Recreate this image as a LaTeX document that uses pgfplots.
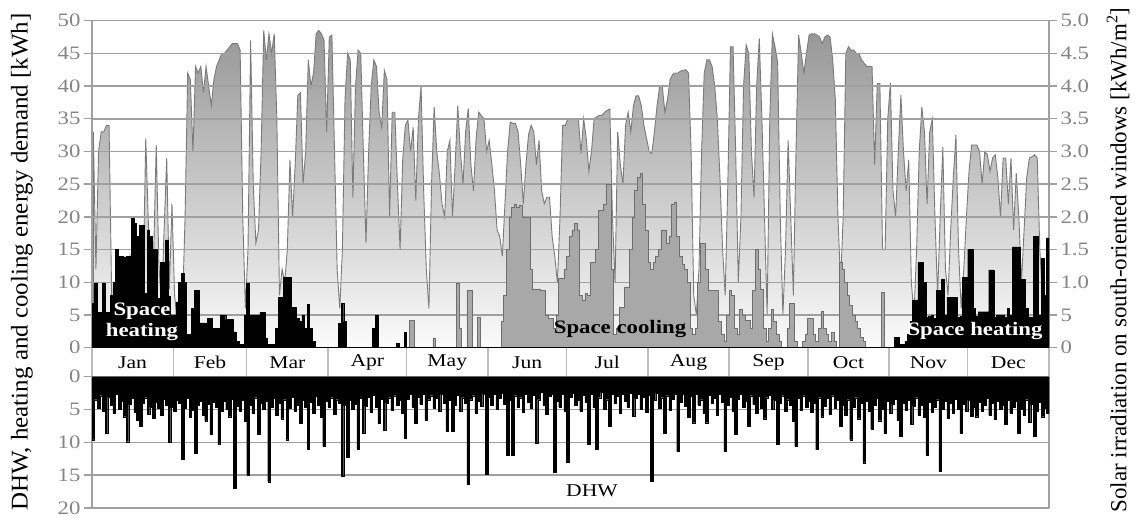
\documentclass[border=0pt]{standalone}
\usepackage{fontspec}
\setmainfont{Liberation Serif}[FakeStretch=1.2]
\newfontfamily\labfont{Liberation Serif}[FakeStretch=1.04]
\newfontfamily\rlabfont{Liberation Serif}
\usepackage{pgfplots}
\usepackage{pgfplotstable}
\pgfplotsset{compat=1.18}

\definecolor{gridgray}{HTML}{A0A0A0}
\definecolor{tickgray}{HTML}{858585}
\definecolor{soltop}{HTML}{979797}
\definecolor{solbot}{HTML}{FBFBFB}
\definecolor{solline}{HTML}{7A7A7A}
\definecolor{coolfill}{HTML}{A8A8A8}
\definecolor{coolline}{HTML}{6E6E6E}
\definecolor{sepgray}{HTML}{BDBDBD}

% day, solar irradiation [kWh/m2], space heating, space cooling, DHW [kWh]
\pgfplotstableread{
d sol heat cool dhw
1 3.3 6.8 0 9.6
2 1.2 9.9 0 3.5
3 3.0 5.4 0 4.8
4 3.3 5.4 0 2.9
5 3.3 9.9 0 5.2
6 3.4 5.4 0 8.6
7 3.4 5.4 0 3.1
8 0.8 8 0 4.4
9 0.5 10 0 5.6
10 1.0 15 0 2.7
11 0.8 14 0 4.9
12 1.2 14 0 3.8
13 0.6 13.9 0 6.1
14 0.9 14 0 9.9
15 1.4 14 0 4.2
16 1.1 19.8 0 3.3
17 0.7 19 0 5.4
18 1.2 17 0 6.6
19 1.6 18.7 0 7.6
20 1.0 18.7 0 4.1
21 3.2 8.3 0 3.2
22 1.9 18 0 5.7
23 0.8 17 0 4.6
24 1.4 15 0 6.3
25 3.1 15 0 3.9
26 1.3 7.5 0 4.8
27 0.6 13 0 5.9
28 1.8 13 0 3.4
29 2.9 16.5 0 4.4
30 0.9 7.8 0 10
31 2.2 5 0 4.7
32 0.8 5 0 5.3
33 0.4 7 0 3.6
34 1.0 10 0 4.1
35 0.6 11.4 0 12.5
36 2.0 10 0 4.8
37 4.2 2 0 3.3
38 4.1 2 0 6.2
39 3.0 6 0 5.1
40 4.3 8.8 0 11.6
41 4.2 8.8 0 4.4
42 4.3 3.8 0 3.7
43 3.9 3.8 0 5.8
44 4.3 3.8 0 6.7
45 4.0 4.5 0 4.2
46 3.7 4.5 0 8.7
47 4.1 3 0 3.9
48 4.3 3 0 4.6
49 4.4 3 0 10.2
50 4.5 5 0 5.3
51 4.5 5 0 3.8
52 4.55 4.3 0 4.9
53 4.6 4.3 0 6.1
54 4.65 4.3 0 3.4
55 4.65 2.4 0 17
56 4.65 1 0 4.5
57 4.55 0.5 0 5.2
58 2.0 0.5 0 3.6
59 0.6 5 0 6.8
60 1.5 9.9 0 15
61 4.7 5 0 4.3
62 2.5 5 0 5.6
63 1.6 5 0 3.2
64 1.8 5 0 8.8
65 3.0 5.4 0 4.1
66 4.85 5.4 0 5.0
67 4.4 1.5 0 3.7
68 4.8 0.5 0 16
69 4.5 0.5 0 4.6
70 4.8 0.5 0 3.3
71 3.5 3 0 5.9
72 0.8 7.7 0 4.0
73 1.2 7.7 0 6.4
74 1.0 10.8 0 3.5
75 1.5 10.8 0 9.6
76 2.87 10.8 0 4.8
77 2.0 6.2 0 3.1
78 2.8 6.2 0 5.2
79 3.86 4.5 0 4.3
80 3.9 4 0 7.1
81 2.5 5 0 3.6
82 3.0 3 0 4.7
83 4.4 6.6 0 11.1
84 4.0 3 0 3.9
85 4.2 1 0 5.5
86 4.8 0 0 3.0
87 4.85 0 0 4.4
88 4.8 0 0 6.2
89 4.7 0 0 10.6
90 3.3 0 0 3.8
91 4.75 0 0 4.6
92 4.78 0 0 3.2
93 3.0 0 0 5.7
94 1.2 0 0 3.5
95 0.6 3.7 0 4.1
96 1.5 6.8 0 15.2
97 3.8 4 0 4.4
98 4.5 0 0 12.3
99 4.4 0 0 3.6
100 2.3 0 0 5.0
101 4.0 0 0 4.2
102 4.55 0 0 11.1
103 4.5 0 0 3.3
104 3.0 0 0 8.6
105 1.6 0 0 4.5
106 3.0 0 0 3.1
107 4.0 0 0 5.4
108 4.4 3 0 2.8
109 4.3 5 0 4.7
110 3.6 0 0 7.1
111 3.37 0 0 3.4
112 4.24 0 0 8.1
113 4.1 0 0 4.0
114 2.0 0 0 3.2
115 3.6 0 0 5.1
116 3.6 0 0 2.9
117 2.5 0.7 0 4.3
118 1.5 0 0 3.6
119 2.87 0 0 5.6
120 3.4 2.3 0 9.3
121 3.48 0 0 3.4
122 3.0 0 4.2 2.7
123 3.37 0 4.2 4.6
124 2.25 0 0 7.1
125 3.5 0 0 3.1
126 4.0 0 0 4.2
127 2.4 0 0 2.6
128 1.2 0 0 6.6
129 0.6 0 0 3.5
130 2.5 0 0 2.9
131 3.68 0 1.5 4.8
132 3.0 0 0 3.3
133 2.66 0 0 5.2
134 2.2 0 0 2.7
135 2.0 0 0 4.0
136 3.0 0 0 8.3
137 3.17 0 0 3.6
138 2.0 0 0 8.3
139 2.8 0 0 4.4
140 3.7 0 9.8 2.8
141 3.0 0 3 5.3
142 2.5 0 0 3.2
143 3.3 0 0 4.1
144 3.66 0 8.8 16.4
145 2.8 0 8.8 3.5
146 2.4 0 0 2.9
147 3.2 0 0 5.6
148 3.6 0 4.7 3.7
149 3.55 0 0 4.5
150 3.5 0 0 2.6
151 3.0 0 0 14.9
152 3.17 0 0 3.1
153 2.8 0 0 4.4
154 2.4 0 0 2.7
155 1.8 0 0 5.0
156 1.7 0 0 3.3
157 1.4 0 4 2.5
158 2.2 0 8 4.2
159 3.0 0 15 11.9
160 3.45 0 20 3.6
161 3.43 0 21.5 11.9
162 3.43 0 22 2.9
163 3.3 0 21.5 4.7
164 2.8 0 21.8 3.2
165 2.2 0 20 5.4
166 2.8 0 20 2.6
167 3.26 0 20 3.9
168 3.4 0 12 4.8
169 3.3 0 9 2.8
170 2.8 0 9 10.1
171 3.17 0 9 3.5
172 2.4 0 8.8 2.4
173 2.2 0 8.8 4.3
174 2.3 0 5 5.7
175 2.3 0 4.5 3.0
176 1.7 0 4.5 2.6
177 1.4 0 3 14.5
178 1.0 0 5 3.8
179 2.0 0 10.6 4.6
180 3.4 0 10.6 2.7
181 3.4 0 12 5.2
182 3.5 0 14 13
183 3.5 0 17 3.1
184 3.5 0 18 2.5
185 3.5 0 19 4.4
186 3.5 0 18 3.6
187 2.97 0 8 5.3
188 3.5 0 7.3 2.8
189 3.2 0 8.3 3.9
190 2.7 0 8 10.3
191 3.0 0 13 2.6
192 3.5 0 13 4.7
193 3.53 0 15 11.1
194 3.55 0 21 3.2
195 3.55 0 21 2.4
196 3.6 0 22 5.0
197 3.63 0 25 3.5
198 3.65 0 25 7.6
199 2.0 0 12 2.7
200 1.0 0 2 4.1
201 3.3 0 3 3.0
202 2.8 0 6.2 5.5
203 2.5 0 6.2 2.6
204 3.4 0 9.3 3.8
205 3.6 0 9.3 4.6
206 3.3 0 15 2.5
207 3.7 0 20 6.0
208 3.85 0 24 3.3
209 3.85 0 26 2.7
210 3.7 0 26.6 4.9
211 3.4 0 22 3.1
212 3.2 0 18 5.4
213 3.0 0 13 2.8
214 2.97 0 12 15.9
215 3.3 0 13 3.6
216 3.7 0 14 2.5
217 4.0 0 15 4.8
218 4.0 0 18 3.2
219 3.6 0 18 8.6
220 3.8 0 16 2.9
221 4.1 0 17 5.1
222 4.18 0 22 3.4
223 4.2 0 22.3 2.6
224 4.2 0 17 11.4
225 4.23 0 14 3.9
226 4.24 0 12.7 2.7
227 4.25 0 12 4.5
228 4.2 0 10 6.2
229 3.0 0 3 3.0
230 0.8 0 2 7.0
231 0.5 0 3 2.6
232 1.2 0 10 4.3
233 3.0 0 16 3.5
234 4.2 0 16 5.6
235 4.4 0 12 7.0
236 4.4 0 8.8 2.8
237 4.3 0 8.8 4.0
238 4.0 0 8.8 3.3
239 3.5 0 8.8 5.8
240 2.6 0 4 2.7
241 1.5 0 2 3.9
242 0.8 0 1 11.4
243 2.5 0 5 4.4
244 4.6 0 8.8 3.1
245 4.6 0 8 5.2
246 3.0 0 3 8.8
247 1.0 0 2 3.4
248 2.0 0 5.8 2.7
249 4.0 0 5 4.6
250 4.63 0 4.2 3.8
251 4.5 0 4.2 7.6
252 3.0 0 3 2.9
253 2.3 0 8.8 4.2
254 4.0 0 15 5.5
255 4.73 0 12 3.0
256 3.5 0 9 4.8
257 2.0 0 3 6.4
258 0.5 0 1 3.2
259 3.5 0 3 2.8
260 4.8 0 5.8 5.0
261 4.6 0 4 3.6
262 4.36 0 2 10.3
263 2.0 0 1 4.1
264 0.5 0 0 2.9
265 1.5 0 0 5.3
266 3.17 0 3 3.5
267 2.0 0 6.8 4.4
268 0.8 0 6.8 6.8
269 3.0 0 1 10.6
270 4.78 0 0 3.3
271 4.5 0 0 5.1
272 4.2 0 1 2.9
273 4.5 0 2 4.6
274 4.78 0 4.5 3.7
275 4.8 0 4.5 5.4
276 4.8 0 2 4.0
277 4.78 0 1 11.1
278 4.75 0 3 3.2
279 4.65 0 5.5 6.1
280 4.75 0 3 4.5
281 4.78 0 2 3.3
282 4.75 0 1 5.7
283 4.4 0 2.3 2.9
284 3.8 0 1 4.8
285 2.0 0 0 3.6
286 1.0 0 13 7.6
287 2.0 0 12 4.3
288 4.5 0 10 5.9
289 4.6 0 8 3.5
290 4.55 0 6.5 9.6
291 4.55 0 5 4.6
292 4.5 0 4 3.2
293 4.5 0 3 6.4
294 4.4 0 1.6 4.1
295 4.35 0 1 13.1
296 4.3 0 0 3.7
297 4.3 0 0 5.2
298 4.3 0 0 8.0
299 2.8 0 0 4.4
300 4.04 0 0 3.3
301 4.04 0 0 6.7
302 1.5 0 8.4 4.9
303 1.5 0 0 8.6
304 3.5 0 0 3.8
305 4.05 0 0 5.5
306 2.4 0 0 4.2
307 2.0 1.6 0 3.4
308 3.0 1.6 0 6.6
309 3.86 0.5 0 9.1
310 3.0 0.5 0 4.0
311 2.4 1 0 5.1
312 2.87 2 0 3.6
313 1.0 4 0 7.3
314 0.5 7.3 0 4.5
315 1.5 7.3 0 3.2
316 3.0 13 0 5.8
317 3.68 13 0 4.3
318 3.3 10 0 6.2
319 2.2 4.6 0 11.9
320 3.3 4.8 0 3.9
321 3.5 5 0 5.4
322 2.0 4.5 0 4.6
323 0.8 8.8 0 3.5
324 2.0 8.8 0 14.4
325 3.07 10.5 0 5.0
326 1.2 5 0 3.8
327 0.8 7.7 0 6.3
328 1.8 7.7 0 4.1
329 2.6 7.7 0 5.6
330 3.25 7.7 0 3.4
331 1.5 4.6 0 4.9
332 0.6 4.8 0 8.6
333 1.2 10.8 0 4.2
334 2.0 10.8 0 5.3
335 2.7 15 0 3.6
336 3.1 15 0 6.0
337 3.1 6 0 4.7
338 3.1 4.8 0 6.1
339 3.0 5.5 0 3.9
340 2.5 5.5 0 5.2
341 3.0 5.5 0 4.4
342 2.95 5.5 0 3.3
343 2.7 11.9 0 5.9
344 2.9 11.9 0 4.0
345 2.95 4.6 0 6.5
346 2.6 5 0 3.7
347 2.0 5 0 5.0
348 2.9 5 0 4.3
349 2.9 4.7 0 7.2
350 2.2 6 0 3.6
351 2.9 4.9 0 5.5
352 1.8 15.4 0 4.6
353 2.67 15.4 0 3.8
354 2.0 15.4 0 8.6
355 1.0 10.5 0 4.9
356 1.8 10.5 0 5.8
357 2.6 6 0 3.5
358 2.9 4.7 0 6.9
359 2.92 4.6 0 4.2
360 2.95 17 0 9.1
361 2.9 17 0 5.3
362 1.5 5 0 3.9
363 0.8 13.7 0 6.1
364 0.5 8 0 4.8
365 0.3 16.8 0 5.6
366 0.3 16.8 0 5.6
}\daily

\pgfplotsset{
  base/.style={
    scale only axis, width=957pt, anchor=south west,
    xmin=0, xmax=365, xtick=\empty,
    tick align=outside, major tick length=8pt,
    tick style={gridgray, line width=1.4pt},
    yticklabel style={font=\fontsize{19}{19}\selectfont, text=tickgray},
  },
}

\begin{document}
\begin{tikzpicture}
\useasboundingbox (0pt,0pt) rectangle (1137pt,521pt);

% solar irradiation (right axis), grid drawn over it
\begin{axis}[base, at={(92pt,173.3pt)}, height=327pt,
  ymin=0, ymax=5, axis on top,
  separate axis lines,
  x axis line style={draw=none},
  y axis line style={gridgray, line width=1.4pt},
  ytick pos=right,
  ytick={0,0.5,1,1.5,2,2.5,3,3.5,4,4.5,5},
  yticklabels={0,5,1.0,1.5,2.0,2.5,3.0,3.5,4.0,4.5,5.0},
  ymajorgrids, major grid style={gridgray, line width=1.5pt},
]
\addplot[solline, line width=0.9pt, top color=soltop, bottom color=solbot]
  table[x expr=\thisrow{d}-0.5, y=sol]{\daily} \closedcycle;
\end{axis}

% heating and cooling demand (left axis)
\begin{axis}[base, at={(92pt,173.3pt)}, height=327pt,
  ymin=0, ymax=50,
  axis line style={draw=none},
  ytick pos=left,
  ytick={0,5,10,15,20,25,30,35,40,45,50},
  yticklabels={0,5,10,15,20,25,30,35,40,45,50},
]
\addplot[const plot mark left, fill=coolfill, draw=coolline, line width=0.6pt]
  table[x expr=\thisrow{d}-1, y=cool]{\daily} \closedcycle;
\addplot[const plot mark left, fill=black, draw=black, line width=0.4pt]
  table[x expr=\thisrow{d}-1, y=heat]{\daily} \closedcycle;
\end{axis}

% month band
\begin{axis}[base, at={(92pt,144.3pt)}, height=28.7pt,
  ymin=0, ymax=1, ytick=\empty,
  axis line style={draw=none},
  xtick={0,31,59,90,120,151,181,212,243,273,304,334,365},
  xticklabels={}, major tick length=0pt,
  xmajorgrids, major grid style={sepgray, line width=1.5pt},
]
\foreach \m/\c in {Jan/15.5,Feb/45,Mar/74.5,Apr/105,May/135.5,Jun/166,Jul/196.5,Aug/227.5,Sep/258,Oct/288.5,Nov/319,Dec/349.5}{
  \edef\tmp{\noexpand\node[font=\noexpand\fontsize{18}{18}\noexpand\selectfont] at (axis cs:\c,0.5) {\m};}
  \tmp
}
\end{axis}

% DHW (downwards)
\begin{axis}[base, at={(92pt,13pt)}, height=131.3pt,
  ymin=0, ymax=20, y dir=reverse,
  separate axis lines,
  x axis line style={draw=none},
  y axis line style={gridgray, line width=1.4pt},
  ytick pos=left,
  ytick={0,5,10,15,20},
  yticklabels={0,5,10,15,20},
  ymajorgrids, major grid style={gridgray, line width=1.5pt},
]
\addplot[const plot mark left, fill=black, draw=black, line width=0.3pt]
  table[x expr=\thisrow{d}-1, y=dhw]{\daily} \closedcycle;
\node[font=\fontsize{18}{18}\selectfont] at (axis cs:190.7,17.4) {DHW};
\end{axis}

% axis titles
\node[rotate=90, font={\labfont\fontsize{24}{24}\selectfont}] at (22pt,259pt)
  {DHW, heating and cooling energy demand [kWh]};
\node[rotate=90, font={\rlabfont\fontsize{23}{23}\selectfont}] at (1118pt,261pt)
  {Solar irradiation on south-oriented windows [kWh/m\textsuperscript{2}]};

% annotations
\node[align=center, text=white, font=\bfseries\fontsize{19}{21}\selectfont] at (142pt,199pt) {Space\\heating};
\node[font=\bfseries\fontsize{19}{19}\selectfont] at (620pt,192pt) {Space cooling};
\node[text=white, font=\bfseries\fontsize{19}{19}\selectfont] at (975pt,190pt) {Space heating};
\end{tikzpicture}
\end{document}
